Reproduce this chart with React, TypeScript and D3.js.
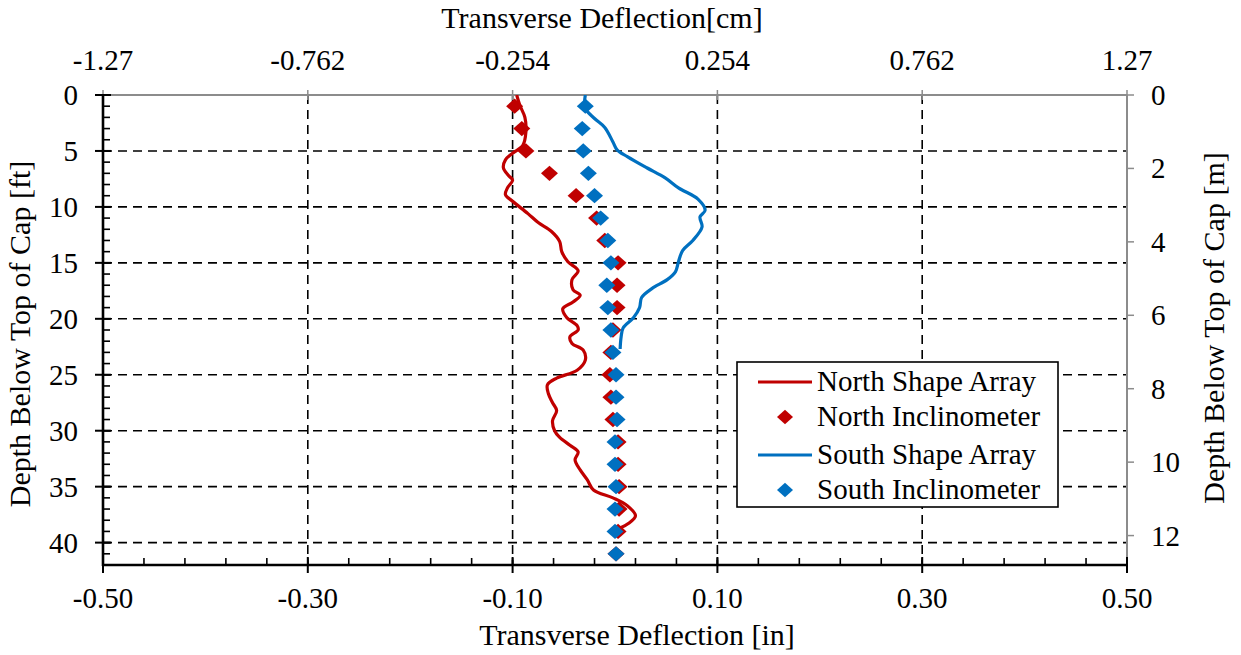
import React from "react";
import * as d3 from "d3";

// Depth (ft) and transverse deflection (in) readings
const northInclDepth = [1, 3, 5, 7, 9, 11, 13, 15, 17, 19, 21, 23, 25, 27, 29, 31, 33, 35, 37, 39, 41];
const northInclDefl = [-0.098, -0.091, -0.087, -0.064, -0.038, -0.018, -0.010, 0.003, 0.002, 0.002, -0.002, -0.004, -0.005, -0.004, -0.002, 0.003, 0.003, 0.004, 0.004, 0.003, 0.001];

const southInclDepth = [1, 3, 5, 7, 9, 11, 13, 15, 17, 19, 21, 23, 25, 27, 29, 31, 33, 35, 37, 39, 41];
const southInclDefl = [-0.029, -0.032, -0.031, -0.026, -0.020, -0.014, -0.007, -0.004, -0.008, -0.007, -0.004, -0.002, 0.001, 0.001, 0.002, 0.0, 0.0, 0.001, 0.0, 0.0, 0.001];

const northArrayDepth = [0, 0.9, 2.0, 3.3, 4.5, 5.2, 5.8, 6.5, 7.2, 7.6, 8.3, 8.9, 9.5, 10.6, 11.4, 12.2, 13.1, 14.0, 14.9, 15.7, 16.5, 17.4, 17.9, 18.5, 19.1, 19.9, 20.6, 21.0, 21.6, 22.2, 22.8, 23.7, 24.6, 25.3, 25.9, 26.7, 27.5, 28.2, 29.1, 30.0, 30.6, 31.3, 31.9, 32.6, 33.5, 34.4, 35.3, 36.0, 36.7, 37.6, 38.3, 38.7];
const northArrayDefl = [-0.096, -0.093, -0.088, -0.087, -0.090, -0.100, -0.107, -0.109, -0.104, -0.100, -0.105, -0.107, -0.100, -0.085, -0.075, -0.062, -0.054, -0.052, -0.046, -0.036, -0.042, -0.041, -0.034, -0.041, -0.051, -0.047, -0.037, -0.036, -0.044, -0.042, -0.031, -0.029, -0.037, -0.057, -0.066, -0.065, -0.061, -0.057, -0.061, -0.059, -0.054, -0.044, -0.036, -0.039, -0.034, -0.027, -0.021, -0.002, 0.012, 0.020, 0.013, 0.005];

const southArrayDepth = [0, 1.2, 2.1, 2.9, 4.2, 4.9, 5.5, 6.5, 7.4, 8.3, 9.3, 10.3, 10.9, 11.8, 13.0, 13.9, 14.9, 15.8, 16.5, 17.3, 18.1, 19.0, 19.9, 20.8, 21.6, 22.7];
const southArrayDefl = [-0.029, -0.029, -0.020, -0.010, -0.002, 0.002, 0.012, 0.031, 0.049, 0.062, 0.081, 0.088, 0.083, 0.085, 0.076, 0.066, 0.062, 0.059, 0.051, 0.036, 0.026, 0.024, 0.018, 0.008, 0.006, 0.005];

const bottomTicks = [-0.5, -0.3, -0.1, 0.1, 0.3, 0.5];
const bottomTickLabels = ["-0.50", "-0.30", "-0.10", "0.10", "0.30", "0.50"];
const topTicks = [-1.27, -0.762, -0.254, 0.254, 0.762, 1.27];
const topTickLabels = ["-1.27", "-0.762", "-0.254", "0.254", "0.762", "1.27"];
const leftTicks = [0, 5, 10, 15, 20, 25, 30, 35, 40];
const rightTicks = [0, 2, 4, 6, 8, 10, 12];

const legendLabels = ["North Shape Array", "North Inclinometer", "South Shape Array", "South Inclinometer"];

const RED = "#C00000";
const BLUE = "#0070C0";
const FONT = "'Liberation Serif', 'Times New Roman', serif";

const W = 1241;
const H = 655;
const left = 103;
const right = 1127;
const top = 95;
const bottom = 565;

export default function App() {
  const x = d3.scaleLinear().domain([-0.5, 0.5]).range([left, right]);
  const xcm = d3.scaleLinear().domain([-1.27, 1.27]).range([left, right]);
  const y = d3.scaleLinear().domain([0, 42]).range([top, bottom]);
  const ym = d3.scaleLinear().domain([0, 42 * 0.3048]).range([top, bottom]);

  const line = d3
    .line<[number, number]>()
    .x((d) => x(d[1]))
    .y((d) => y(d[0]))
    .curve(d3.curveCatmullRom.alpha(0.5));

  const northPath = line(northArrayDepth.map((d, i) => [d, northArrayDefl[i]]) as [number, number][]) || "";
  const southPath = line(southArrayDepth.map((d, i) => [d, southArrayDefl[i]]) as [number, number][]) || "";

  const diamond = (cx: number, cy: number, r: number) =>
    `M${cx},${cy - r * 0.9}L${cx + r},${cy}L${cx},${cy + r * 0.9}L${cx - r},${cy}Z`;

  const minorX = d3.range(0, 26).map((i) => -0.5 + i * 0.04);
  const minorY = d3.range(0, 43);

  const fs = 29;
  const fsTitle = 30;

  return (
    <svg
      width={W}
      height={H}
      style={{ position: "absolute", left: 0, top: 0, background: "#fff" }}
      fontFamily={FONT}
    >
      <defs>
        <clipPath id="plotClip">
          <rect x={left} y={top} width={right - left} height={bottom - top} />
        </clipPath>
      </defs>
      <rect x={0} y={0} width={W} height={H} fill="#fff" />

      {/* grid */}
      {bottomTicks.slice(1, -1).map((t) => (
        <line key={"gx" + t} x1={x(t)} x2={x(t)} y1={top} y2={bottom} stroke="#000" strokeWidth={1.6} strokeDasharray="9,6" />
      ))}
      {leftTicks.slice(1).map((t) => (
        <line key={"gy" + t} x1={left} x2={right} y1={y(t)} y2={y(t)} stroke="#000" strokeWidth={1.6} strokeDasharray="9,6" />
      ))}

      {/* top axis (cm) */}
      <line x1={left} x2={right} y1={top} y2={top} stroke="#8c8c8c" strokeWidth={2} />
      {topTicks.map((t, i) => (
        <g key={"tt" + t}>
          <line x1={xcm(t)} x2={xcm(t)} y1={top - 5} y2={top + 5} stroke="#8c8c8c" strokeWidth={1.5} />
          <text x={xcm(t)} y={70} fontSize={fs} textAnchor="middle">{topTickLabels[i]}</text>
        </g>
      ))}
      <text x={602} y={28} fontSize={fsTitle} textAnchor="middle">Transverse Deflection[cm]</text>

      {/* right axis (m) */}
      <line x1={right} x2={right} y1={top} y2={bottom} stroke="#8c8c8c" strokeWidth={2} />
      {rightTicks.map((t) => (
        <g key={"rt" + t}>
          <line x1={right} x2={right + 7} y1={ym(t)} y2={ym(t)} stroke="#8c8c8c" strokeWidth={1.5} />
          <text x={1151} y={ym(t) + 10} fontSize={fs}>{t}</text>
        </g>
      ))}
      <text transform={`translate(1224,328) rotate(-90)`} fontSize={fsTitle} textAnchor="middle">Depth Below Top of Cap [m]</text>

      {/* data */}
      <g clipPath="url(#plotClip)">
        <path d={northPath} fill="none" stroke={RED} strokeWidth={3.2} strokeLinejoin="round" />
        {northInclDepth.map((d, i) => (
          <path key={"ni" + i} d={diamond(x(northInclDefl[i]), y(d), 8.5)} fill={RED} />
        ))}
        <path d={southPath} fill="none" stroke={BLUE} strokeWidth={3.2} strokeLinejoin="round" />
        {southInclDepth.map((d, i) => (
          <path key={"si" + i} d={diamond(x(southInclDefl[i]), y(d), 8.5)} fill={BLUE} />
        ))}
      </g>

      {/* left axis (ft) */}
      <line x1={left} x2={left} y1={top} y2={bottom + 1} stroke="#000" strokeWidth={2.6} />
      {minorY.map((t) => (
        <line key={"my" + t} x1={left} x2={left + 7} y1={y(t)} y2={y(t)} stroke="#000" strokeWidth={1.6} />
      ))}
      {leftTicks.map((t) => (
        <g key={"lt" + t}>
          <line x1={left - 8} x2={left + 8} y1={y(t)} y2={y(t)} stroke="#000" strokeWidth={2} />
          <text x={78} y={y(t) + 10} fontSize={fs} textAnchor="end">{t}</text>
        </g>
      ))}
      <text transform={`translate(30,334) rotate(-90)`} fontSize={fsTitle} textAnchor="middle">Depth Below Top of Cap [ft]</text>

      {/* bottom axis (in) */}
      <line x1={left - 1} x2={right + 1} y1={bottom} y2={bottom} stroke="#000" strokeWidth={2.6} />
      {minorX.map((t, i) => (
        <line key={"mx" + i} x1={x(t)} x2={x(t)} y1={bottom} y2={bottom - 7} stroke="#000" strokeWidth={1.6} />
      ))}
      {bottomTicks.map((t, i) => (
        <g key={"bt" + t}>
          <line x1={x(t)} x2={x(t)} y1={bottom - 8} y2={bottom + 8} stroke="#000" strokeWidth={2} />
          <text x={x(t)} y={608} fontSize={fs} textAnchor="middle">{bottomTickLabels[i]}</text>
        </g>
      ))}
      <text x={637} y={645} fontSize={fsTitle} textAnchor="middle">Transverse Deflection [in]</text>

      {/* legend */}
      <g>
        <rect x={737} y={362} width={321} height={145} fill="#fff" stroke="#000" strokeWidth={1.6} />
        {legendLabels.map((lab, i) => {
          const cy = [382, 417, 455, 490][i];
          const color = i < 2 ? RED : BLUE;
          const isLine = i % 2 === 0;
          return (
            <g key={lab}>
              {isLine ? (
                <line x1={758} x2={812} y1={cy} y2={cy} stroke={color} strokeWidth={3.2} />
              ) : (
                <path d={diamond(785, cy, 8)} fill={color} />
              )}
              <text x={817} y={cy + 9} fontSize={fs}>{lab}</text>
            </g>
          );
        })}
      </g>
    </svg>
  );
}
